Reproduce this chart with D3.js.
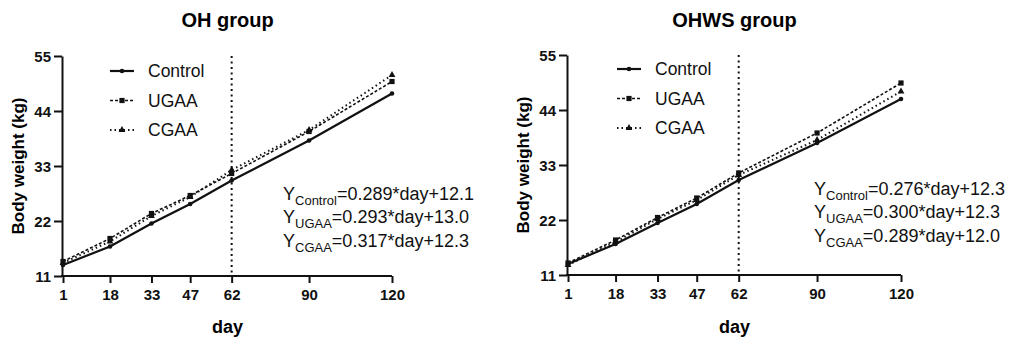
<!DOCTYPE html>
<html>
<head>
    <meta charset="UTF-8">
    <title>Body weight</title>
    <style>
        body { margin: 0; background: #fff; }
        text { font-family: "Liberation Sans", Arial, sans-serif; }
    </style>
</head>
<body>
    <div id="chart"></div>
    <script src="https://cdn.jsdelivr.net/npm/d3@7"></script>
    <script>
    // data
    const days = [1, 18, 33, 47, 62, 90, 120];
    const yTicks = [11, 22, 33, 44, 55];
    const seriesNames = ["Control", "UGAA", "CGAA"];

    const ohControl = [13.2, 16.9, 21.5, 25.4, 30.1, 38.1, 47.5];
    const ohUGAA    = [13.9, 18.5, 23.5, 27.1, 31.5, 39.9, 49.9];
    const ohCGAA    = [13.6, 17.9, 23.0, 26.8, 32.2, 40.2, 51.2];

    const ohwsControl = [13.2, 17.2, 21.4, 25.2, 30.0, 37.4, 46.2];
    const ohwsUGAA    = [13.4, 18.0, 22.5, 26.4, 31.4, 39.4, 49.4];
    const ohwsCGAA    = [13.0, 17.6, 22.2, 26.0, 31.0, 38.0, 47.7];

    const ohEquations = [
        ["Control", "=0.289*day+12.1"],
        ["UGAA", "=0.293*day+13.0"],
        ["CGAA", "=0.317*day+12.3"]
    ];
    const ohwsEquations = [
        ["Control", "=0.276*day+12.3"],
        ["UGAA", "=0.300*day+12.3"],
        ["CGAA", "=0.289*day+12.0"]
    ];

    const W = 1021, H = 342;
    const svg = d3.select("#chart").append("svg")
        .attr("width", W)
        .attr("height", H);

    const dashes = {Control: null, UGAA: "3,2", CGAA: "1.5,3"};
    const widths = {Control: 2.2, UGAA: 1.6, CGAA: 2};

    function drawMarker(g, name, x, y) {
        if (name === "Control") {
            g.append("circle").attr("cx", x).attr("cy", y).attr("r", 2.3).attr("fill", "#111");
        } else if (name === "UGAA") {
            g.append("rect").attr("x", x - 2.6).attr("y", y - 2.6)
                .attr("width", 5.2).attr("height", 5.2).attr("fill", "#111");
        } else {
            g.append("path")
                .attr("d", d3.symbol().type(d3.symbolTriangle).size(20)())
                .attr("transform", `translate(${x},${y})`)
                .attr("fill", "#111");
        }
    }

    function drawPanel(opt) {
        const x = d3.scaleLinear().domain([1, 120]).range([opt.x0, opt.x1]);
        const y = d3.scaleLinear().domain([11, 55]).range([opt.yb, opt.yt]);
        const g = svg.append("g");

        // title
        g.append("text")
            .attr("x", (opt.x0 + opt.x1) / 2)
            .attr("y", 27)
            .attr("text-anchor", "middle")
            .style("font-size", "20px")
            .style("font-weight", "bold")
            .text(opt.title);

        // reference line at day 62
        g.append("line")
            .attr("x1", x(62)).attr("x2", x(62))
            .attr("y1", y(55)).attr("y2", y(11))
            .attr("stroke", "#111")
            .attr("stroke-width", 2)
            .attr("stroke-dasharray", "2,3.5");

        // axes
        const xAxis = g.append("g")
            .attr("transform", `translate(0,${opt.yb})`)
            .call(d3.axisBottom(x).tickValues(days).tickSize(7).tickSizeOuter(0).tickPadding(6));
        const yAxis = g.append("g")
            .attr("transform", `translate(${opt.x0 - 1},0)`)
            .call(d3.axisLeft(y).tickValues(yTicks).tickSize(8).tickSizeOuter(0).tickPadding(3));
        [xAxis, yAxis].forEach(a => {
            a.select(".domain").attr("stroke", "#111").attr("stroke-width", 2);
            a.selectAll(".tick line").attr("stroke", "#111").attr("stroke-width", 2);
            a.selectAll(".tick text")
                .attr("fill", "#111")
                .style("font-size", "15px")
                .style("font-weight", "bold")
                .style("font-family", "'Liberation Sans', Arial, sans-serif");
        });
        xAxis.select(".domain").attr("d", `M${opt.x0 - 2},0H${opt.x1}`);
        yAxis.selectAll(".tick text").attr("dy", "0.36em");

        // axis titles
        g.append("text")
            .attr("x", (opt.x0 + opt.x1) / 2)
            .attr("y", 333)
            .attr("text-anchor", "middle")
            .style("font-size", "18px")
            .style("font-weight", "bold")
            .text("day");
        g.append("text")
            .attr("transform", `translate(${opt.x0 - 39},${(opt.yb + opt.yt) / 2}) rotate(-90)`)
            .attr("text-anchor", "middle")
            .style("font-size", "17px")
            .style("font-weight", "bold")
            .text("Body weight (kg)");

        // series
        const line = d3.line().x((d, i) => x(days[i])).y(d => y(d));
        const order = ["CGAA", "UGAA", "Control"];
        order.forEach(name => {
            const vals = opt.series[name];
            g.append("path")
                .datum(vals)
                .attr("d", line)
                .attr("fill", "none")
                .attr("stroke", "#111")
                .attr("stroke-width", widths[name])
                .attr("stroke-dasharray", dashes[name]);
            vals.forEach((v, i) => drawMarker(g, name, x(days[i]), y(v)));
        });

        // legend
        seriesNames.forEach((name, i) => {
            const ly = opt.legY + i * 29.5;
            g.append("line")
                .attr("x1", opt.legX).attr("x2", opt.legX + 24)
                .attr("y1", ly).attr("y2", ly)
                .attr("stroke", "#111")
                .attr("stroke-width", widths[name])
                .attr("stroke-dasharray", dashes[name]);
            drawMarker(g, name, opt.legX + 12, ly);
            g.append("text")
                .attr("x", opt.legX + 38)
                .attr("y", ly + 6)
                .style("font-size", "17.5px")
                .attr("fill", "#111")
                .text(name);
        });

        // regression equations
        opt.equations.forEach((eq, i) => {
            const t = g.append("text")
                .attr("x", opt.eqX)
                .attr("y", opt.eqY[i])
                .attr("fill", "#111")
                .style("font-size", "18px");
            t.append("tspan").text("Y");
            t.append("tspan").attr("dy", 5).style("font-size", "13px").text(eq[0]);
            t.append("tspan").attr("dy", -5).text(eq[1]);
        });
    }

    drawPanel({
        title: "OH group",
        x0: 63, x1: 392, yb: 276, yt: 56,
        legX: 110, legY: 71,
        eqX: 283, eqY: [200, 223, 247],
        series: {Control: ohControl, UGAA: ohUGAA, CGAA: ohCGAA},
        equations: ohEquations
    });
    drawPanel({
        title: "OHWS group",
        x0: 568, x1: 901, yb: 275, yt: 55,
        legX: 617, legY: 69,
        eqX: 814, eqY: [195, 218, 242],
        series: {Control: ohwsControl, UGAA: ohwsUGAA, CGAA: ohwsCGAA},
        equations: ohwsEquations
    });
    </script>
</body>
</html>
